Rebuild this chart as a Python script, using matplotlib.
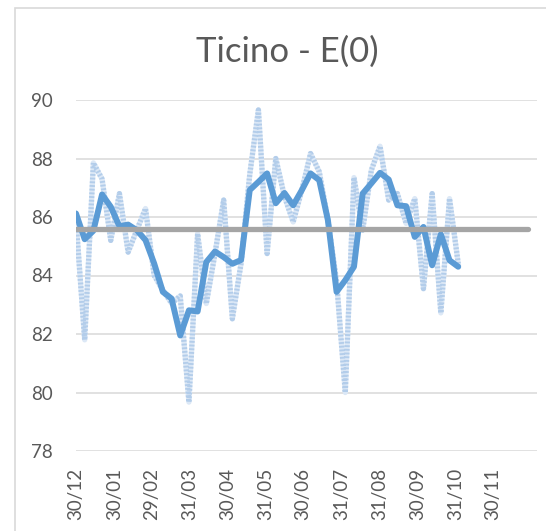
import matplotlib
matplotlib.use("Agg")
import matplotlib.pyplot as plt
import matplotlib.dates as mdates
from matplotlib.patches import Rectangle
import numpy as np
import pandas as pd

# dati settimanali (dal 30/12/2019)
inizio = "2019-12-30"
settimanale = [85.9, 81.8, 87.85, 87.3, 85.2, 86.8, 84.8, 85.55, 86.29, 84.0,
               83.5, 83.05, 83.3, 79.67, 85.43, 83.04, 84.75, 86.58, 82.52, 84.41,
               87.45, 89.66, 84.75, 88.0, 86.7, 85.83, 86.92, 88.17, 87.55, 85.9,
               83.8, 80.0, 87.35, 85.55, 87.6, 88.42, 86.58, 86.8, 85.78, 86.63,
               83.55, 86.8, 82.72, 86.63, 84.41]
media_mobile = [86.12, 85.24, 85.53, 86.77, 86.35, 85.68, 85.74, 85.55, 85.21, 84.41,
                83.44, 83.21, 81.95, 82.81, 82.77, 84.46, 84.82, 84.63, 84.40, 84.53,
                86.92, 87.20, 87.49, 86.47, 86.82, 86.40, 86.92, 87.49, 87.26, 85.89,
                83.44, 83.84, 84.30, 86.80, 87.15, 87.51, 87.28, 86.40, 86.37, 85.32,
                85.66, 84.35, 85.41, 84.52, 84.30]
media_annua = 85.6
n_settimane_media = 53

etichette_x = ["2019-12-30", "2020-01-30", "2020-02-29", "2020-03-31", "2020-04-30",
               "2020-05-31", "2020-06-30", "2020-07-31", "2020-08-31", "2020-09-30",
               "2020-10-31", "2020-11-30"]
tick_y = [78, 80, 82, 84, 86, 88, 90]

date_dati = pd.date_range(inizio, periods=len(settimanale), freq="7D")
date_media = pd.date_range(inizio, periods=n_settimane_media, freq="7D")
tick_x = pd.to_datetime(etichette_x)

plt.rcParams['font.family'] = ['Lato', 'DejaVu Sans']
grigio_testo = '#595959'

fig = plt.figure(figsize=(5.46, 5.31), dpi=100)
ax = fig.add_axes([76 / 546, 1 - 451 / 531, (537 - 76) / 546, (451 - 100) / 531])

# cornice del grafico
fig.patches.append(Rectangle((15 / 546, -0.1), 1.2, 1 - 8 / 531 + 0.1,
                             transform=fig.transFigure, fill=False,
                             edgecolor='#d9d9d9', linewidth=1.2))

# serie settimanale con effetto "retinato"
ax.plot(date_dati, settimanale, color='#dce8f6', linewidth=3.8,
        solid_joinstyle='round', zorder=2)
ax.plot(date_dati, settimanale, color='#b3cdea', linewidth=3.8,
        linestyle=(0, (0.35, 0.35)), zorder=2)
ax.plot(date_dati, media_mobile, color='#5b9bd5', linewidth=4.3,
        solid_joinstyle='round', solid_capstyle='round', zorder=3)
ax.plot(date_media, [media_annua] * n_settimane_media, color='#a5a5a5',
        linewidth=3.8, solid_capstyle='round', zorder=4)

ax.set_ylim(78, 90)
ax.set_xlim(pd.Timestamp(inizio), pd.Timestamp(inizio) + pd.Timedelta(days=371.5))
ax.set_yticks(tick_y)
ax.set_xticks(tick_x)
ax.xaxis.set_major_formatter(mdates.DateFormatter('%d/%m'))
ax.grid(axis='y', color='#d9d9d9', linewidth=1.1)
ax.set_axisbelow(True)
for s in ax.spines.values():
    s.set_visible(False)
ax.tick_params(axis='both', length=0, labelsize=13.5, labelcolor=grigio_testo)
ax.tick_params(axis='y', pad=17)
ax.tick_params(axis='x', pad=12, labelrotation=90)

fig.text(287 / 546, 1 - 52 / 531, 'Ticino - E(0)', ha='center', va='center',
         fontsize=25, color=grigio_testo)

fig.savefig('out.png', dpi=100)
